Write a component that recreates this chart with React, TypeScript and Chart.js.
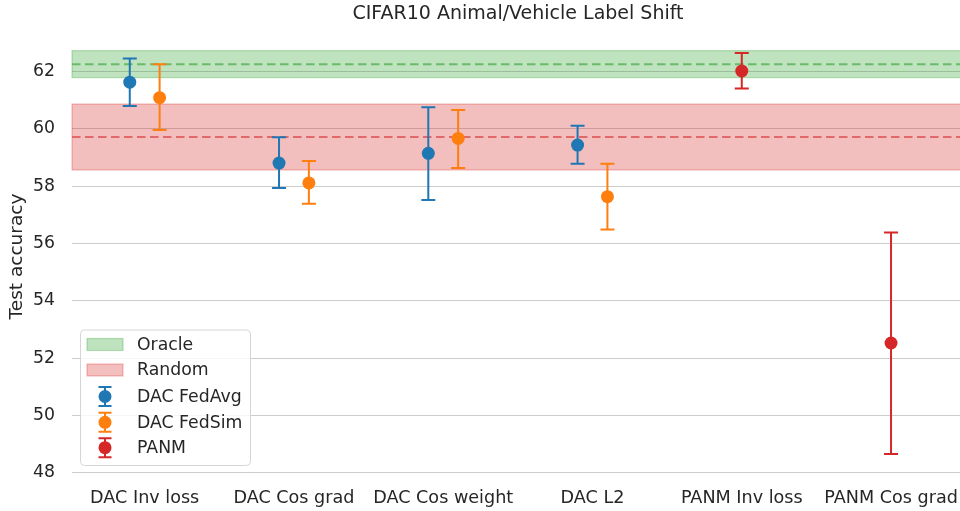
import React, { useEffect, useRef } from "react";
import { Chart, registerables } from "chart.js";

Chart.register(...registerables);

// Method names along the x axis
const categories = [
  "DAC Inv loss",
  "DAC Cos grad",
  "DAC Cos weight",
  "DAC L2",
  "PANM Inv loss",
  "PANM Cos grad",
];

// DAC FedAvg (first four methods)
const fedAvgIdx = [0, 1, 2, 3];
const fedAvgMean = [61.62, 58.8, 59.14, 59.43];
const fedAvgLow = [60.79, 57.93, 57.51, 58.78];
const fedAvgHigh = [62.45, 59.7, 60.75, 60.1];

// DAC FedSim (first four methods)
const fedSimIdx = [0, 1, 2, 3];
const fedSimMean = [61.08, 58.11, 59.66, 57.63];
const fedSimLow = [59.95, 57.38, 58.63, 56.49];
const fedSimHigh = [62.25, 58.87, 60.65, 58.78];

// PANM (last two methods)
const panmIdx = [4, 5];
const panmMean = [62.01, 52.53];
const panmLow = [61.4, 48.66];
const panmHigh = [62.64, 56.38];

// Reference bands: [mean, low, high]
const oracleBand = [62.25, 61.78, 62.72];
const randomBand = [59.71, 58.56, 60.86];

const yTicks = [48, 50, 52, 54, 56, 58, 60, 62];

const FONT = "'DejaVu Sans', sans-serif";
const BLUE = "#1f77b4";
const ORANGE = "#ff7f0e";
const RED = "#d62728";

function makeSeries(label: string, color: string, idx: number[], mean: number[], low: number[], high: number[], dodge: number) {
  return {
    label,
    data: idx.map((c, i) => ({ x: c + dodge, y: mean[i] })),
    errLow: low,
    errHigh: high,
    backgroundColor: color,
    borderColor: color,
    pointRadius: 6.5,
    pointHoverRadius: 6.5,
    borderWidth: 0,
    showLine: false,
  };
}

const bandsAndErrors = {
  id: "bandsAndErrors",
  beforeDatasetsDraw(chart: any) {
    const { ctx, chartArea } = chart;
    const ys = chart.scales.y;
    const drawBand = (band: number[], fill: string, dash: string) => {
      const top = ys.getPixelForValue(band[2]);
      const bot = ys.getPixelForValue(band[1]);
      ctx.save();
      ctx.fillStyle = fill;
      ctx.strokeStyle = fill;
      ctx.lineWidth = 1.2;
      ctx.fillRect(chartArea.left, top, chartArea.right - chartArea.left, bot - top);
      ctx.strokeRect(chartArea.left, top, chartArea.right - chartArea.left + 4, bot - top);
      const m = ys.getPixelForValue(band[0]);
      ctx.strokeStyle = dash;
      ctx.lineWidth = 2;
      ctx.setLineDash([8.5, 4.5]);
      ctx.beginPath();
      ctx.moveTo(chartArea.left, m);
      ctx.lineTo(chartArea.right, m);
      ctx.stroke();
      ctx.restore();
    };
    drawBand(oracleBand, "rgba(44,160,44,0.3)", "rgba(90,180,90,0.85)");
    drawBand(randomBand, "rgba(214,39,40,0.3)", "rgba(222,90,90,0.85)");

    chart.data.datasets.forEach((ds: any) => {
      ctx.save();
      ctx.strokeStyle = ds.borderColor;
      ctx.lineWidth = 2;
      ds.data.forEach((p: any, i: number) => {
        const x = chart.scales.x.getPixelForValue(p.x);
        const yl = ys.getPixelForValue(ds.errLow[i]);
        const yh = ys.getPixelForValue(ds.errHigh[i]);
        ctx.beginPath();
        ctx.moveTo(x, yl);
        ctx.lineTo(x, yh);
        ctx.moveTo(x - 7, yl);
        ctx.lineTo(x + 7, yl);
        ctx.moveTo(x - 7, yh);
        ctx.lineTo(x + 7, yh);
        ctx.stroke();
      });
      ctx.restore();
    });
  },
  afterDraw(chart: any) {
    const { ctx } = chart;
    ctx.save();
    // Title
    ctx.fillStyle = "#262626";
    ctx.font = `19px ${FONT}`;
    ctx.textAlign = "center";
    ctx.textBaseline = "middle";
    ctx.fillText("CIFAR10 Animal/Vehicle Label Shift", 518, 14);

    // Legend
    const lx = 80.5, ly = 330, lw = 170, lh = 135.5;
    ctx.beginPath();
    ctx.roundRect(lx, ly, lw, lh, 4);
    ctx.fillStyle = "rgba(255,255,255,0.8)";
    ctx.fill();
    ctx.strokeStyle = "#d5d5d5";
    ctx.lineWidth = 1;
    ctx.stroke();

    const rowsY = [344.5, 370, 396.5, 422.3, 447.7];
    const textX = 137;
    const patch = (y: number, fill: string) => {
      ctx.fillStyle = fill;
      ctx.strokeStyle = fill;
      ctx.lineWidth = 1.2;
      ctx.fillRect(87, y - 6, 36, 12);
      ctx.strokeRect(87, y - 6, 36, 12);
    };
    patch(rowsY[0], "rgba(44,160,44,0.3)");
    patch(rowsY[1], "rgba(214,39,40,0.3)");
    const marker = (y: number, color: string) => {
      ctx.strokeStyle = color;
      ctx.fillStyle = color;
      ctx.lineWidth = 2;
      ctx.beginPath();
      ctx.moveTo(105, y - 9.5);
      ctx.lineTo(105, y + 9.5);
      ctx.moveTo(98.5, y - 9.5);
      ctx.lineTo(111.5, y - 9.5);
      ctx.moveTo(98.5, y + 9.5);
      ctx.lineTo(111.5, y + 9.5);
      ctx.stroke();
      ctx.beginPath();
      ctx.arc(105, y, 6.5, 0, Math.PI * 2);
      ctx.fill();
    };
    marker(rowsY[2], BLUE);
    marker(rowsY[3], ORANGE);
    marker(rowsY[4], RED);

    const labels = ["Oracle", "Random", "DAC FedAvg", "DAC FedSim", "PANM"];
    ctx.fillStyle = "#262626";
    ctx.font = `17.3px ${FONT}`;
    ctx.textAlign = "left";
    ctx.textBaseline = "middle";
    labels.forEach((t, i) => ctx.fillText(t, textX, rowsY[i] + 1));
    ctx.restore();
  },
};

export default function App() {
  const ref = useRef<HTMLCanvasElement | null>(null);

  useEffect(() => {
    document.body.style.margin = "0";
    const canvas = ref.current;
    if (!canvas) return;
    const chart = new Chart(canvas, {
      type: "scatter",
      data: {
        datasets: [
          makeSeries("DAC FedAvg", BLUE, fedAvgIdx, fedAvgMean, fedAvgLow, fedAvgHigh, -0.1),
          makeSeries("DAC FedSim", ORANGE, fedSimIdx, fedSimMean, fedSimLow, fedSimHigh, 0.1),
          makeSeries("PANM", RED, panmIdx, panmMean, panmLow, panmHigh, 0),
        ] as any,
      },
      plugins: [bandsAndErrors],
      options: {
        animation: false,
        responsive: false,
        devicePixelRatio: 1,
        layout: { autoPadding: false, padding: { top: 32, left: 0, right: 0, bottom: 0 } },
        plugins: {
          legend: { display: false },
          title: { display: false },
          tooltip: { enabled: false },
        },
        scales: {
          x: {
            type: "linear",
            min: -0.487,
            max: 5.462,
            grid: { display: false, drawTicks: false },
            border: { display: false },
            afterBuildTicks: (axis: any) => {
              axis.ticks = categories.map((_, i) => ({ value: i }));
            },
            afterFit: (axis: any) => {
              axis.height = 30;
              axis.paddingLeft = 0;
              axis.paddingRight = 0;
            },
            ticks: {
              autoSkip: false,
              maxRotation: 0,
              padding: 7,
              color: "#262626",
              font: { family: FONT, size: 17.6 },
              callback: (v: any) => categories[v as number] ?? "",
            },
          },
          y: {
            min: 47.72,
            max: 63.37,
            afterBuildTicks: (axis: any) => {
              axis.ticks = yTicks.map((v) => ({ value: v }));
            },
            afterFit: (axis: any) => {
              axis.width = 72;
              axis.paddingTop = 0;
              axis.paddingBottom = 0;
            },
            grid: { color: "#cccccc", lineWidth: 1, drawTicks: false },
            border: { display: false },
            ticks: {
              padding: 17,
              color: "#262626",
              font: { family: FONT, size: 17.3 },
            },
            title: {
              display: true,
              text: "Test accuracy",
              color: "#262626",
              font: { family: FONT, size: 18.5 },
              padding: { top: 6, bottom: 0 },
            },
          },
        },
      },
    });
    return () => chart.destroy();
  }, []);

  return (
    <div style={{ position: "absolute", left: 0, top: 0, width: 960, height: 511, background: "#fff", overflow: "hidden" }}>
      <canvas ref={ref} width={960} height={511} />
    </div>
  );
}
